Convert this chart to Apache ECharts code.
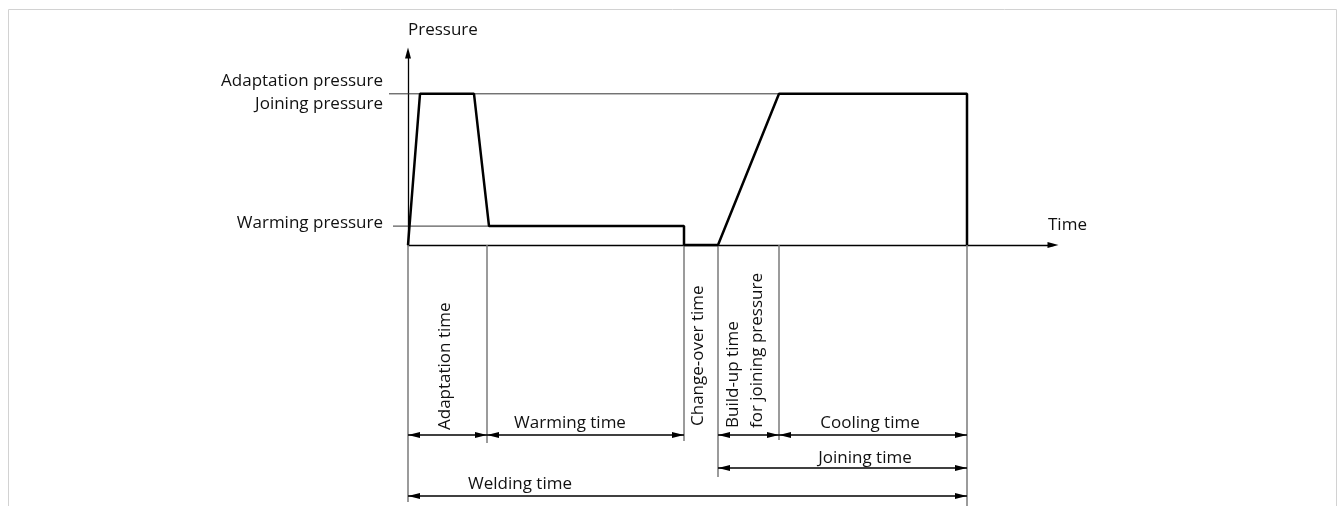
<!DOCTYPE html>
<html>
<head>
<meta charset="utf-8">
<script src="https://cdn.jsdelivr.net/npm/echarts@6/dist/echarts.min.js"></script>
<style>
  html, body { margin: 0; padding: 0; background: #fff; }
  #container { width: 1338px; height: 506px; }
</style>
</head>
<body>
<div id="container"></div>
<script>
// pressure curve of the welding cycle (time units, pressure units)
var curveTime     = [0, 1.2, 6.6, 8.1, 27.6, 27.6, 31.0, 37.1, 55.9, 55.9];
var curvePressure = [0, 10,  10,  1.25, 1.25, 0,    0,    10,   10,   0];

// pressure levels named on the left
var levelNames  = ['Adaptation pressure\nJoining pressure', 'Warming pressure'];
var levelValues = [10, 1.25];
var levelEnds   = [55.9, 27.6];   // time where each guide line stops

// phase boundaries on the time axis
var phaseBounds = [0, 7.9, 27.6, 31.0, 37.1, 55.9];

// time spans with arrows: [from, to]
var spanNames = ['Adaptation time', 'Warming time', 'Build-up time', 'Cooling time', 'Joining time', 'Welding time'];
var spanFrom  = [0,   7.9,  31.0, 37.1, 31.0, 0];
var spanTo    = [7.9, 27.6, 37.1, 55.9, 55.9, 55.9];

// labels under the time axis
var labelTexts = ['Adaptation time', 'Warming time', 'Change-over time', 'Build-up time\nfor joining pressure',
                  'Cooling time', 'Joining time', 'Welding time'];
var labelTime  = [3.7, 16.2, 29.0, 33.7, 46.2, 45.7, 11.2];

// layout only (pixels below the time axis)
var spanRowPx   = [190, 190, 190, 190, 223, 251];
var boundDropPx = [257, 198, 196, 232, 195, 270];
var labelYPx    = [185, 178, 181, 183, 178, 213, 239];
var labelRot    = [true, false, true, true, false, false, false];
var levelLabelDy = [-1, -3];

var FONT = '"Open Sans", "Liberation Sans", sans-serif';
var TXT = '#111';

var dom = document.getElementById('container');
var myChart = echarts.init(dom);

// one vertical helper line per phase boundary
function renderBound(params, api) {
    var p = api.coord([api.value(0), 0]);
    return {
        type: 'line',
        shape: { x1: p[0], y1: p[1], x2: p[0], y2: p[1] + boundDropPx[params.dataIndex] },
        style: { stroke: '#7a7a7a', lineWidth: 1.5 }
    };
}

// dimension line with two arrow heads
function renderSpan(params, api) {
    var a = api.coord([api.value(0), 0]);
    var b = api.coord([api.value(1), 0]);
    var y = a[1] + spanRowPx[params.dataIndex];
    var x1 = a[0], x2 = b[0], L = 12, W = 3;
    return {
        type: 'group',
        children: [
            { type: 'line', shape: { x1: x1, y1: y, x2: x2, y2: y }, style: { stroke: '#000', lineWidth: 1.3 } },
            { type: 'polygon', shape: { points: [[x1, y], [x1 + L, y - W], [x1 + L, y + W]] }, style: { fill: '#000' } },
            { type: 'polygon', shape: { points: [[x2, y], [x2 - L, y - W], [x2 - L, y + W]] }, style: { fill: '#000' } }
        ]
    };
}

function renderLabel(params, api) {
    var i = params.dataIndex;
    var p = api.coord([api.value(0), 0]);
    var rot = labelRot[i];
    return {
        type: 'text',
        x: p[0],
        y: p[1] + labelYPx[i],
        rotation: rot ? Math.PI / 2 : 0,
        style: {
            text: labelTexts[i],
            fill: TXT,
            fontSize: 17,
            fontFamily: FONT,
            lineHeight: 24,
            align: rot ? 'left' : 'center',
            verticalAlign: 'middle'
        }
    };
}

// horizontal guide line + name for each pressure level
function renderLevel(params, api) {
    var i = params.dataIndex;
    var a = api.coord([0, api.value(0)]);
    var b = api.coord([levelEnds[i], api.value(0)]);
    var lead = i === 0 ? 19 : 15;
    return {
        type: 'group',
        children: [
            { type: 'line', shape: { x1: a[0] - lead, y1: a[1], x2: b[0], y2: b[1] }, style: { stroke: '#333', lineWidth: 1 } },
            {
                type: 'text', x: a[0] - 25, y: a[1] + levelLabelDy[i],
                style: {
                    text: levelNames[i], fill: TXT, fontSize: 17, fontFamily: FONT,
                    lineHeight: 23, align: 'right', verticalAlign: 'middle'
                }
            }
        ]
    };
}

var curveData = [];
for (var i = 0; i < curveTime.length; i++) {
    curveData.push([curveTime[i], curvePressure[i]]);
}

var option = {
    animation: false,
    textStyle: { fontFamily: FONT },
    graphic: [{
        type: 'rect',
        shape: { x: 8.5, y: 9.5, width: 1328, height: 520 },
        style: { fill: 'none', stroke: '#d2d2d2', lineWidth: 1 },
        silent: true
    }],
    grid: { left: 408, top: 53, right: 285, bottom: 261 },
    xAxis: {
        type: 'value', min: 0, max: 64.5,
        name: 'Time', nameLocation: 'end', nameGap: -5,
        nameTextStyle: { color: TXT, fontSize: 17, fontFamily: FONT, align: 'left', verticalAlign: 'bottom', padding: [0, 0, 11, 0] },
        axisLine: { lineStyle: { color: '#000', width: 1.3 }, symbol: ['none', 'triangle'], symbolSize: [6, 11] },
        axisTick: { show: false }, axisLabel: { show: false }, splitLine: { show: false }
    },
    yAxis: {
        type: 'value', min: 0, max: 12.7,
        name: 'Pressure', nameLocation: 'end', nameGap: 14,
        nameTextStyle: { color: TXT, fontSize: 17, fontFamily: FONT, align: 'left', verticalAlign: 'bottom' },
        axisLine: { lineStyle: { color: '#000', width: 1.3 }, symbol: ['none', 'triangle'], symbolSize: [6, 11] },
        axisTick: { show: false }, axisLabel: { show: false }, splitLine: { show: false }
    },
    series: [
        {
            type: 'custom', name: 'levels', renderItem: renderLevel, clip: false, z: 1,
            data: levelValues.map(function (v) { return [v]; }),
            encode: { y: 0 }
        },
        {
            type: 'custom', name: 'bounds', renderItem: renderBound, clip: false, z: 1,
            data: phaseBounds.map(function (t) { return [t]; }),
            encode: { x: 0 }
        },
        {
            type: 'custom', name: 'spans', renderItem: renderSpan, clip: false, z: 2,
            data: spanFrom.map(function (t, k) { return [t, spanTo[k]]; }),
            encode: { x: [0, 1] }
        },
        {
            type: 'custom', name: 'labels', renderItem: renderLabel, clip: false, z: 3,
            data: labelTime.map(function (t) { return [t]; }),
            encode: { x: 0 }
        },
        {
            type: 'line', name: 'pressure', data: curveData, clip: false, z: 5,
            symbol: 'none', lineStyle: { color: '#000', width: 2.5 }
        }
    ]
};

if (option && typeof option === 'object') {
    myChart.setOption(option, true);
}
</script>
</body>
</html>
